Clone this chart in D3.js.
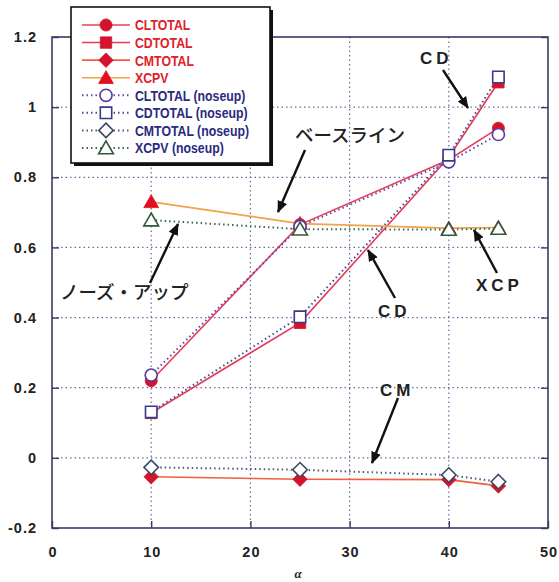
<!DOCTYPE html>
<html lang="ja">
<head>
<meta charset="UTF-8">
<title>CL / CD / CM / XCP vs alpha</title>
<script src="https://d3js.org/d3.v7.min.js"></script>
<style>
  body { margin: 0; background: #fff; }
  .tick-label { font-family: "Liberation Sans", Arial, sans-serif; font-weight: bold; font-size: 14.5px; fill: #222; letter-spacing: 1px; }
  .legend-text { font-family: "Liberation Sans Narrow", "Arial Narrow", "Liberation Sans", sans-serif; font-weight: bold; font-size: 15px; }
  .note-jp { font-family: "Noto Sans CJK JP", sans-serif; font-size: 18.5px; font-weight: 500; fill: #222; }
  .note-en { font-family: "Liberation Sans", Arial, sans-serif; font-weight: bold; font-size: 17px; fill: #222; letter-spacing: 4px; }
</style>
</head>
<body>
<svg id="chart" width="559" height="582"></svg>
<script>
// data
const alpha = [10, 25, 40, 45];
const clTotal = [0.22, 0.665, 0.85, 0.94];
const cdTotal = [0.128, 0.385, 0.857, 1.071];
const cmTotal = [-0.054, -0.061, -0.062, -0.080];
const xcpv = [0.730, 0.668, 0.655, 0.657];
const clNoseup = [0.236, 0.66, 0.844, 0.922];
const cdNoseup = [0.131, 0.402, 0.863, 1.086];
const cmNoseup = [-0.027, -0.034, -0.049, -0.068];
const xcpvNoseup = [0.678, 0.652, 0.651, 0.654];

const xTicks = [0, 10, 20, 30, 40, 50];
const yTicks = [-0.2, 0, 0.2, 0.4, 0.6, 0.8, 1, 1.2];

const seriesNames = ["CLTOTAL", "CDTOTAL", "CMTOTAL", "XCPV",
  "CLTOTAL (noseup)", "CDTOTAL (noseup)", "CMTOTAL (noseup)", "XCPV (noseup)"];

const series = [
  { name: seriesNames[0], values: clTotal, sym: "circle", line: "#e8405a", mark: "#d4142c", dash: null, filled: true, text: "#e0202a" },
  { name: seriesNames[1], values: cdTotal, sym: "square", line: "#e63a58", mark: "#d4142c", dash: null, filled: true, text: "#e0202a" },
  { name: seriesNames[2], values: cmTotal, sym: "diamond", line: "#f06040", mark: "#d4142c", dash: null, filled: true, text: "#e0202a" },
  { name: seriesNames[3], values: xcpv, sym: "triangle", line: "#f2a24a", mark: "#e01020", dash: null, filled: true, text: "#e0202a" },
  { name: seriesNames[4], values: clNoseup, sym: "circle", line: "#6a48a8", mark: "#5a3aa0", dash: "1.5,3", filled: false, text: "#2a2a80" },
  { name: seriesNames[5], values: cdNoseup, sym: "square", line: "#4a4a98", mark: "#3a3a8c", dash: "1.5,3", filled: false, text: "#2a2a80" },
  { name: seriesNames[6], values: cmNoseup, sym: "diamond", line: "#4a5a7a", mark: "#3a4a66", dash: "1.5,3", filled: false, text: "#2a2a80" },
  { name: seriesNames[7], values: xcpvNoseup, sym: "triangle", line: "#3a6a4a", mark: "#2e5a3e", dash: "1.5,3", filled: false, text: "#2a2a80" }
];

const svg = d3.select("#chart");
const x = d3.scaleLinear().domain([0, 50]).range([52, 548]);
const y = d3.scaleLinear().domain([-0.2, 1.2]).range([528, 37]);

// square turned 45 degrees
const squareDiamond = {
  draw(ctx, size) {
    const r = Math.sqrt(size / 2);
    ctx.moveTo(0, -r); ctx.lineTo(r, 0); ctx.lineTo(0, r); ctx.lineTo(-r, 0); ctx.closePath();
  }
};
const symbols = {
  circle: d3.symbol(d3.symbolCircle, 115),
  square: d3.symbol(d3.symbolSquare, 130),
  diamond: d3.symbol(squareDiamond, 105),
  triangle: d3.symbol(d3.symbolTriangle, 95)
};

// grid
const grid = svg.append("g");
grid.selectAll(".gx").data(xTicks.slice(1, -1)).join("line")
  .attr("x1", d => x(d)).attr("x2", d => x(d))
  .attr("y1", y(1.2)).attr("y2", y(-0.2))
  .attr("stroke", "#6a6aa0").attr("stroke-width", 1.2).attr("stroke-dasharray", "1.5,3");
grid.selectAll(".gy").data(yTicks.slice(1, -1)).join("line")
  .attr("y1", d => y(d)).attr("y2", d => y(d))
  .attr("x1", x(0)).attr("x2", x(50))
  .attr("stroke", "#6a6aa0").attr("stroke-width", 1.2).attr("stroke-dasharray", "1.5,3");

// frame + inward ticks
svg.append("rect")
  .attr("x", x(0)).attr("y", y(1.2))
  .attr("width", x(50) - x(0)).attr("height", y(-0.2) - y(1.2))
  .attr("fill", "none").attr("stroke", "#3a3a66").attr("stroke-width", 1.6);

const tickFmt = d => d === 0 ? "0" : String(+d.toFixed(1));

svg.append("g").attr("transform", `translate(${x(0)},0)`)
  .call(d3.axisRight(y).tickValues(yTicks).tickSize(7).tickFormat(""))
  .call(g => g.select(".domain").remove())
  .selectAll("line").attr("stroke", "#3a3a66").attr("stroke-width", 1.4);
svg.append("g").attr("transform", `translate(${x(50)},0)`)
  .call(d3.axisLeft(y).tickValues(yTicks).tickSize(7).tickFormat(""))
  .call(g => g.select(".domain").remove())
  .selectAll("line").attr("stroke", "#3a3a66").attr("stroke-width", 1.4);
svg.append("g").attr("transform", `translate(0,${y(-0.2)})`)
  .call(d3.axisTop(x).tickValues(xTicks).tickSize(7).tickFormat(""))
  .call(g => g.select(".domain").remove())
  .selectAll("line").attr("stroke", "#3a3a66").attr("stroke-width", 1.4);

// tick labels
svg.selectAll(".ylab").data(yTicks).join("text")
  .attr("class", "tick-label")
  .attr("x", 37).attr("y", d => y(d)).attr("dy", "0.35em")
  .attr("text-anchor", "end").text(tickFmt);
svg.selectAll(".xlab").data(xTicks).join("text")
  .attr("class", "tick-label")
  .attr("x", d => x(d) + 1).attr("y", 557)
  .attr("text-anchor", "middle").text(d => d);
svg.append("text")
  .attr("x", 298).attr("y", 578)
  .attr("text-anchor", "middle")
  .attr("font-family", "Liberation Serif, serif").attr("font-style", "italic").attr("font-weight", "bold")
  .attr("font-size", 13).attr("fill", "#222").text("α");

// series lines
const line = d3.line().x((d, i) => x(alpha[i])).y(d => y(d));
series.forEach(s => {
  svg.append("path").datum(s.values)
    .attr("d", line).attr("fill", "none")
    .attr("stroke", s.line).attr("stroke-width", s.dash ? 2 : 1.6)
    .attr("stroke-dasharray", s.dash);
});

// markers: filled first, open on top
series.forEach(s => {
  svg.append("g").selectAll("path").data(s.values).join("path")
    .attr("transform", (d, i) => `translate(${x(alpha[i])},${y(d) + (s.sym === "triangle" ? 1.5 : 0)})`)
    .attr("d", symbols[s.sym])
    .attr("fill", s.filled ? s.mark : "#fff")
    .attr("stroke", s.mark).attr("stroke-width", s.filled ? 0.8 : 1.6);
});

// legend
const lg = svg.append("g");
lg.append("rect").attr("x", 74).attr("y", 10).attr("width", 199).attr("height", 156).attr("fill", "#111");
lg.append("rect").attr("x", 71).attr("y", 7).attr("width", 199).attr("height", 156)
  .attr("fill", "#fff").attr("stroke", "#111").attr("stroke-width", 1.6);
const rowY = d3.scaleLinear().domain([0, 7]).range([25, 148]);
series.forEach((s, i) => {
  const yy = rowY(i);
  lg.append("line").attr("x1", 82).attr("x2", 130).attr("y1", yy).attr("y2", yy)
    .attr("stroke", s.line).attr("stroke-width", s.dash ? 2 : 1.6).attr("stroke-dasharray", s.dash);
  lg.append("path").attr("transform", `translate(106,${yy + (s.sym === "triangle" ? 1.5 : 0)})`)
    .attr("d", symbols[s.sym])
    .attr("fill", s.filled ? s.mark : "#fff")
    .attr("stroke", s.mark).attr("stroke-width", s.filled ? 0.8 : 1.6);
  lg.append("text").attr("class", "legend-text")
    .attr("transform", `translate(135,${yy}) scale(0.82,1)`)
    .attr("dy", "0.36em")
    .attr("fill", s.text).text(s.name);
});

// annotations
const notes = [
  { t: "ベースライン", x: 295, y: 135, cls: "note-jp" },
  { t: "ノーズ・アップ", x: 60, y: 292, cls: "note-jp" },
  { t: "CD", x: 420, y: 58, cls: "note-en" },
  { t: "CD", x: 378, y: 311, cls: "note-en" },
  { t: "XCP", x: 476, y: 285, cls: "note-en" },
  { t: "CM", x: 380, y: 390, cls: "note-en" }
];
svg.selectAll(".note").data(notes).join("text")
  .attr("class", d => d.cls)
  .attr("x", d => d.x).attr("y", d => d.y).attr("dy", "0.36em")
  .text(d => d.t);

const arrows = [
  [305, 150, 278, 212],
  [150, 283, 178, 224],
  [443, 70, 468, 108],
  [395, 298, 368, 250],
  [497, 273, 474, 230],
  [398, 398, 372, 463]
];
svg.append("defs").append("marker")
  .attr("id", "head").attr("viewBox", "0 0 12 10").attr("refX", 11).attr("refY", 5)
  .attr("markerWidth", 5).attr("markerHeight", 4.5).attr("orient", "auto")
  .append("path").attr("d", "M0,0L12,5L0,10z").attr("fill", "#111");
svg.selectAll(".arrow").data(arrows).join("line")
  .attr("x1", d => d[0]).attr("y1", d => d[1]).attr("x2", d => d[2]).attr("y2", d => d[3])
  .attr("stroke", "#111").attr("stroke-width", 2.4).attr("marker-end", "url(#head)");
</script>
</body>
</html>
